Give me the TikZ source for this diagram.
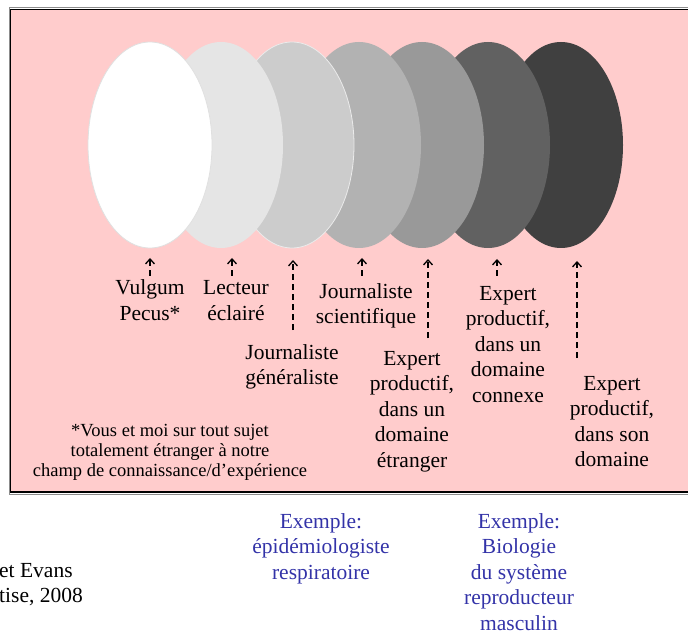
\documentclass[tikz,border=0pt]{standalone}
\usepackage{fontspec}
\setmainfont{Liberation Serif}
\usepackage{xcolor}
\usetikzlibrary{arrows.meta}
\definecolor{pinkbg}{HTML}{FFCCCC}
\definecolor{exblue}{HTML}{3333A8}

\begin{document}
\begin{tikzpicture}[x=1pt,y=-1pt,
  lab/.style={font=\fontsize{21.5}{25.5}\selectfont,align=center,inner sep=0pt,anchor=base},
  note/.style={font=\fontsize{18.5}{20}\selectfont,align=center,inner sep=0pt,anchor=base},
  up/.style={-{Straight Barb[length=5pt,width=9pt]},dash pattern=on 6pt off 4pt,line width=1.3pt}]
  \useasboundingbox (0,0) rectangle (688,636);
  % frame
  \draw[black!45,line width=1pt] (9,8) rectangle (696,494);
  \draw[fill=pinkbg,line width=1.6pt] (10.5,9.5) rectangle (695,492);
  % ellipses, rightmost first
  \foreach \x/\g/\d in {561/25/none,488/38/none,422/60/none,359/70/none,
                        292/80/white!92!black,221/90/none,150/100/black!12}
    \filldraw[fill=white!\g!black,draw=\d,line width=.8pt]
      (\x,145) ellipse [x radius=62pt,y radius=103pt];

  % labels (base = last line)
  \path (150,320.5) node (vp) [lab] {Vulgum\\Pecus*}
        (236,320.5) node (le) [lab] {Lecteur\\éclairé}
        (292,384.5) node (jg) [lab] {Journaliste\\généraliste}
        (366,323.5) node (js) [lab] {Journaliste\\scientifique}
        (412,467) node (ee) [lab] {Expert\\productif,\\dans un\\domaine\\étranger}
        (508,402) node (ec) [lab] {Expert\\productif,\\dans un\\domaine\\connexe}
        (612,466.5) node (ed) [lab] {Expert\\productif,\\dans son\\domaine};
  \path (170,476) node (fn) [note] {*Vous et moi sur tout sujet\\totalement étranger à notre\\champ de connaissance/d’expérience};

  \path (321,579) node (x1) [lab,text=exblue] {Exemple:\\épidémiologiste\\respiratoire}
        (519,630) node (x2) [lab,text=exblue] {Exemple:\\Biologie\\du système\\reproducteur\\masculin};
  \path (-1,577) node (src1) [lab,anchor=base west] {et Evans}
        (-1,602) node (src2) [lab,anchor=base west] {tise, 2008};

  % dashed arrows up to the ellipses
  \path (150,276) coordinate (vpo) (150,258) coordinate (vpi);
  \draw[up] (vpo) -- (vpi);
  \path (232,276) coordinate (leo) (232,258) coordinate (lei);
  \draw[up] (leo) -- (lei);
  \path (293,330) coordinate (jgo) (293,260) coordinate (jgi);
  \draw[up] (jgo) -- (jgi);
  \path (362,276) coordinate (jso) (362,258) coordinate (jsi);
  \draw[up] (jso) -- (jsi);
  \path (428,338) coordinate (eeo) (428,259) coordinate (eei);
  \draw[up] (eeo) -- (eei);
  \path (497,276) coordinate (eco) (497,259) coordinate (eci);
  \draw[up] (eco) -- (eci);
  \path (577,358) coordinate (edo) (577,261) coordinate (edi);
  \draw[up] (edo) -- (edi);
\end{tikzpicture}
\end{document}
